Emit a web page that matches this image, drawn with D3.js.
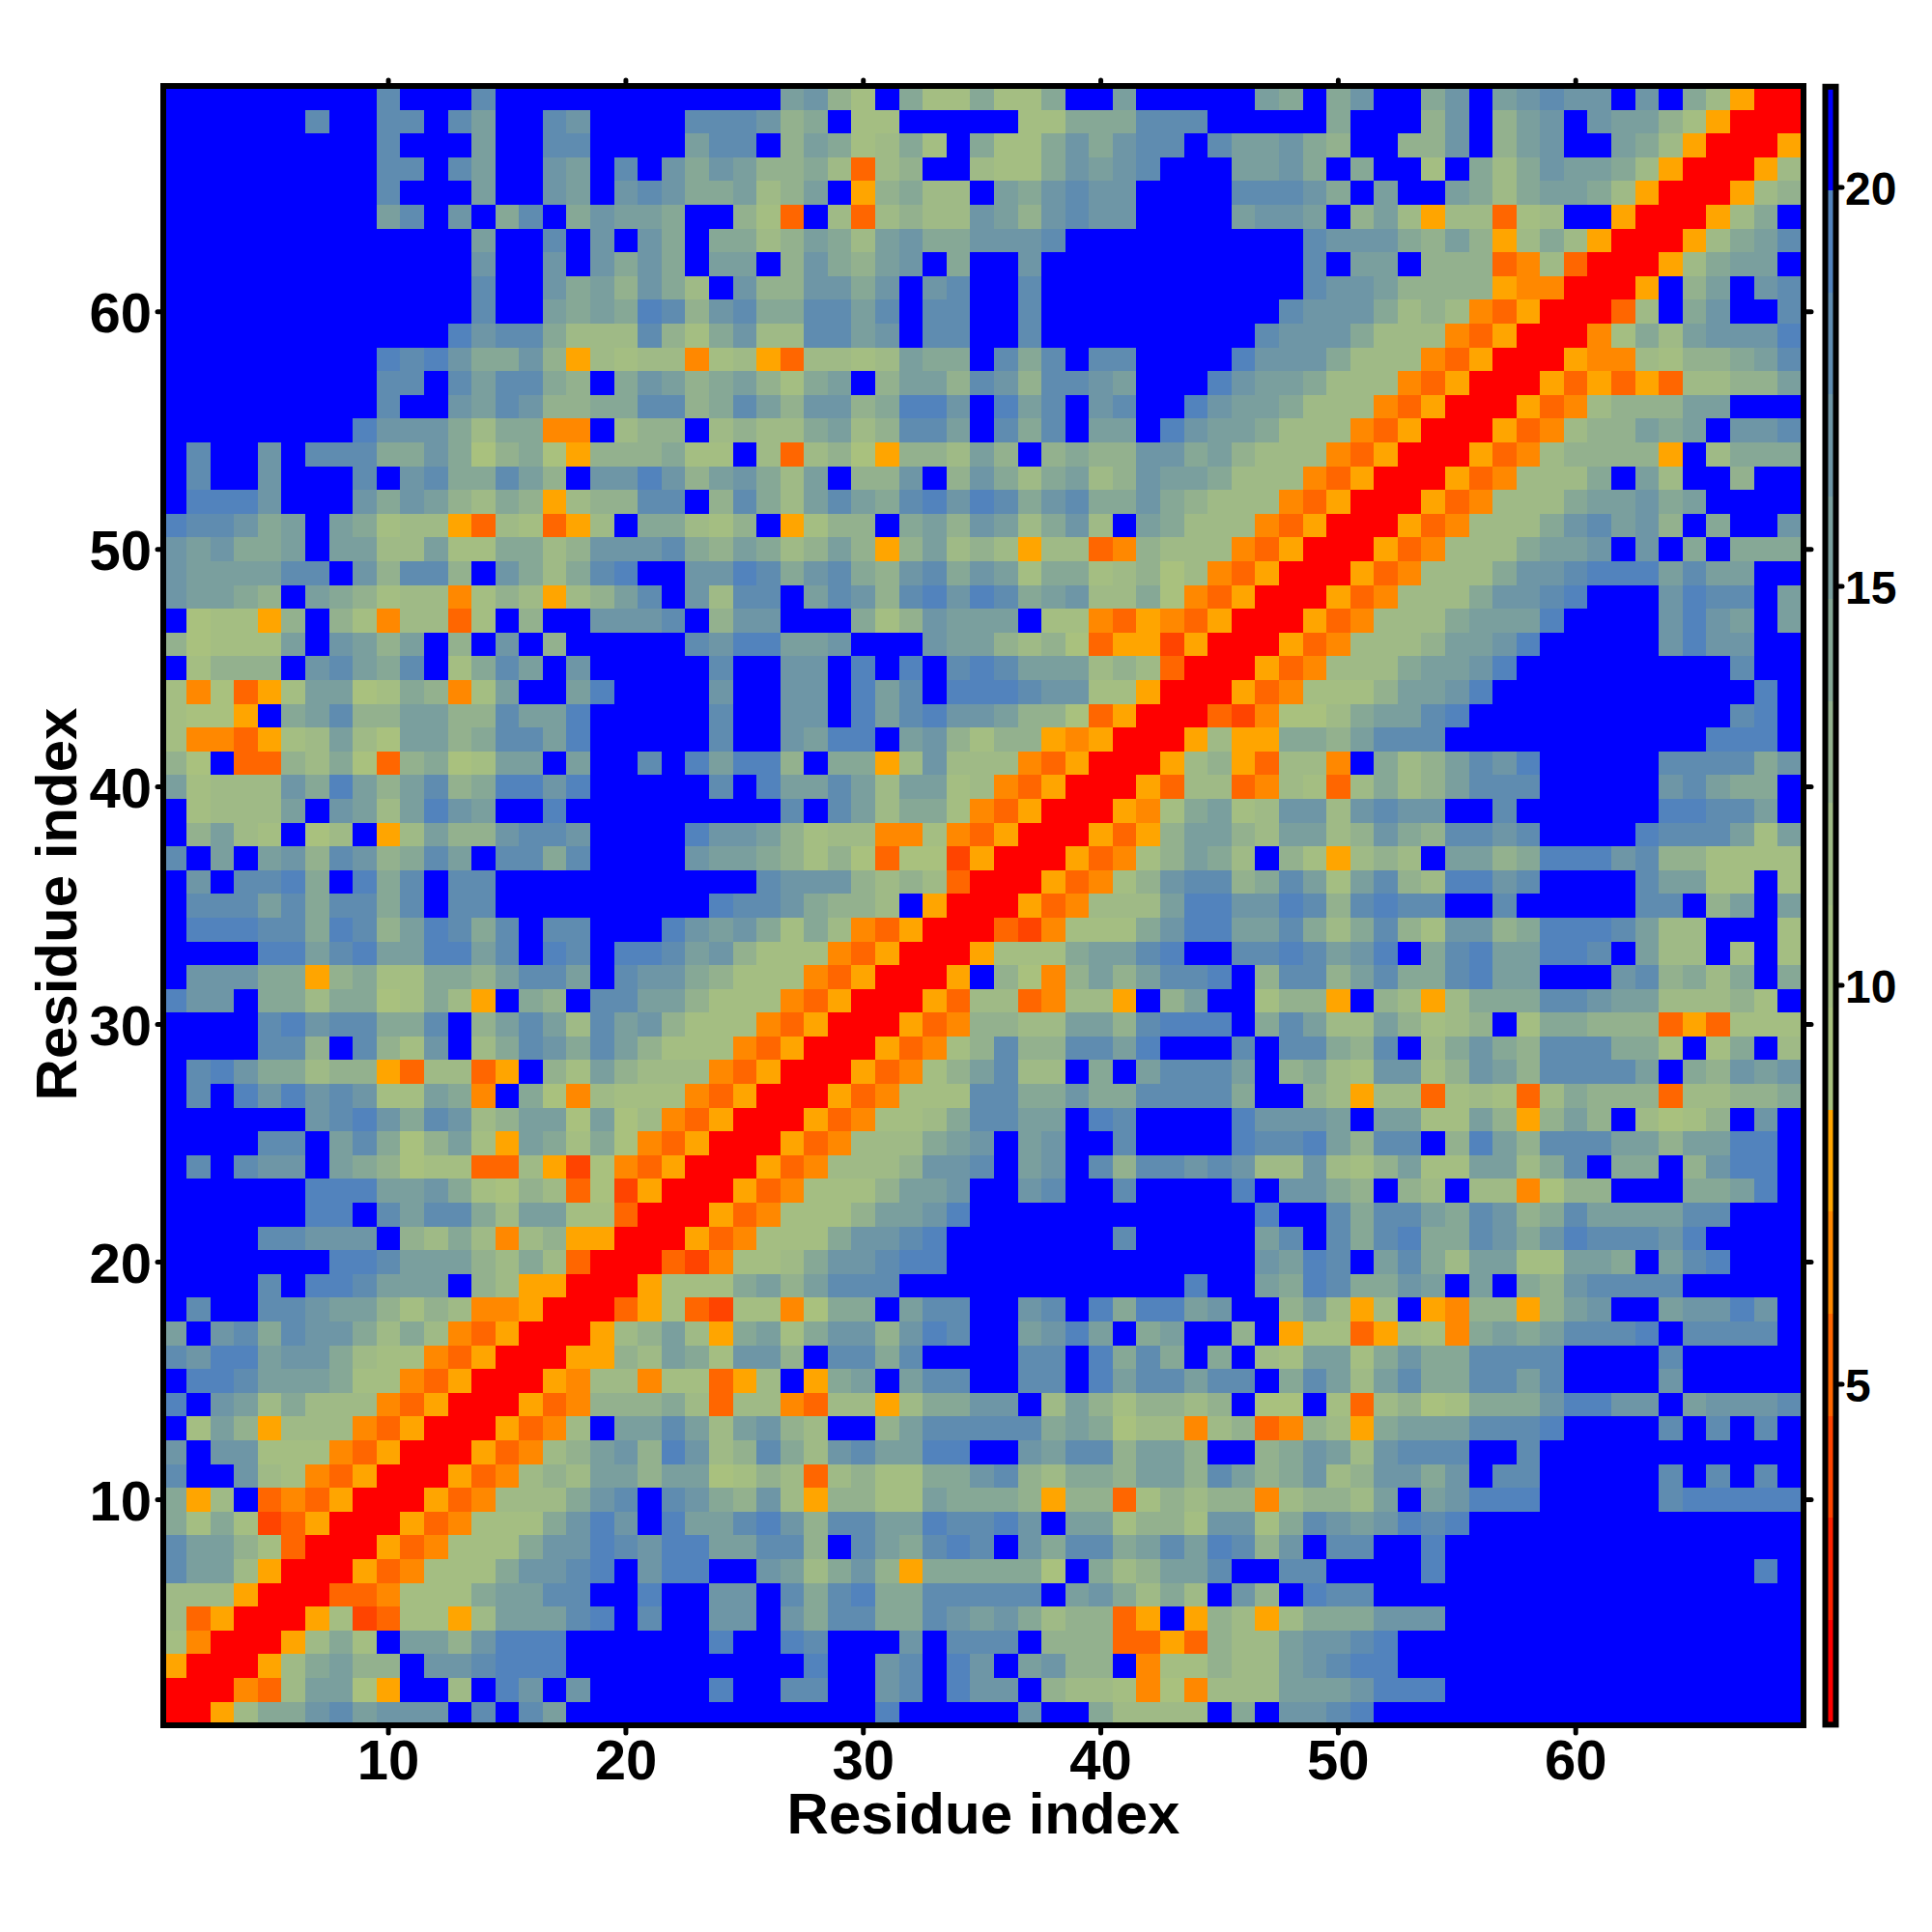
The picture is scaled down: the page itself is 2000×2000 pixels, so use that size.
<!DOCTYPE html>
<html><head><meta charset="utf-8"><title>Residue contact map</title>
<script src="https://cdn.jsdelivr.net/npm/d3@7"></script>
<style>html,body{margin:0;padding:0;background:#fff}svg{display:block}text{font-family:"Liberation Sans",Arial,sans-serif;font-weight:bold;fill:#000}</style>
</head><body><svg id="c" width="2000" height="2000"></svg>
<script>
// Distance-band codes per cell; first entry = residue 69 (top row), left to right = residue 1..69.
// R,Q,D,O,Y = red to orange bands; 1..9 = sage green to steel blue bands; B = blue band.
const rows = [
"BBBBBBBBB8 BBB8BBBBBB BBBBBB6742 B5225225BB 6BBBBB65B5 7BB57B6787 7B7B53YRR",
"BBBBBB8BB8 8B86BB87BB BB888745B2 2BBBBB2255 5888BBBBB5 BBB47B467B 76642YRRR",
"BBBBBBBBB8 BBB6BB88BB BB688B4652 352B522575 788B866754 BB447B467B B653YRRRY",
"BBBBBBBBB8 8B86BB76B8 B75764453D 34BB322576 78BBB6675B 5BB2B53576 653YRRRY3",
"BBBBBBBBB8 BBB6BB76B7 87556346BY 4533B65787 7BBBB88875 B6BB653566 53YRRRY34",
"BBBBBBBBB6 8B7B58B576 65BB42DB3D 3433764787 7BBBB6776B 463Y33D23B BYRRRY35B",
"BBBBBBBBBB BBB6BB8B7B 75B5534653 67557778BB BBBBBBBB87 775464Y353 YRRRY3568",
"BBBBBBBBBB BBB7BB7B75 75B66B4754 67B5BB7BBB BBBBBBBB8B 66B444DO3D RRRY3566B",
"BBBBBBBBBB BBB8BB7564 753B744775 7B78BB8BBB BBBBBBBB87 764444YOOR RRYB46B78",
"BBBBBBBBBB BBB8BB6565 9847855886 8B88BB8BBB BBBBBBB877 75343ODYRR RD3B57BB8",
"BBBBBBBBBB BB97885333 8425733886 7B88BB8BBB BBBBBB8777 5333ODYRRR O25367779",
"BBBBBBBBB9 8975574Y32 33O23YD332 3655B858B8 8BBBB97775 333ODYRRRY OO3244568",
"BBBBBBBBB8 8B868854B5 764564256B 4664874887 6BBB976653 33ODYRRRYD YDYD33446",
"BBBBBBBBB8 BB76874455 8845864774 5997B968B7 8BB9766533 3ODYRRRYDO 344466BBB",
"BBBBBBBB97 775355OOB3 44B3433563 4886B858B6 6B97665333 ODYRRRYDO3 44656B778",
"B8BB7B8885 5751451Y44 4522B3D341 Y44364B454 477564333O DYRRRYDO34 444YB3555",
"B8BB7BBB8B 7855864B77 97467536B4 47B4753563 47665333OD YRRRYDO333 5B63BB4BB",
"B9997BBB75 764354Y344 88B4853686 5897985785 5754333ODY RRRYDO3335 66756BBBB",
"988756B652 33YD32DY3B 55324BY244 B564763573 B65333ODYR RRYDO33357 8674B5BB7",
"767556B663 3622553477 7854653464 Y46343Y33D O4333ODYRR RYDO333566 7B7B5B555",
"7666688B74 884B753589 BB77985785 4785762552 3413ODYRRR YDO3335778 9996866BB",
"76654B6542 33O243Y346 8B7388B687 4897985673 351ODYRRRY DO33357789 BBB7988B6",
"B122Y4B42O 33D2B4BB77 78B477BBB5 247666B22O DYODYRRRYD O33356669B BBB7976B6",
"412226B764 6B4B7B4BBB BB8799667B BB7664341D YYQYRRRYDO 33346679BB BBB7977BB",
"B2444B7865 8B2586B7BB BBB8BB77B9 B9B8986663 43DRRRYDO3 3356679BBB BBBBBB8BB",
"2O1DY26612 54O26BB69B BBB7BB77B9 68B9998772 2YRRRYDO22 246679BBBB BBBBBBB9B",
"211YB56844 66448669BB BBB8BB77B9 689776441D YRRRDQO113 56689BBBBB BBBBBB89B",
"2OODY23631 66458869BB BBB8BB7699 B674244YOY RRRY3YY554 6888BBBBBB BBBBB999B",
"41BDD4351D 451266B6BB 8B96994B55 Y37333ODYR RRY34YD33O B5346879BB BBB888857",
"6233375964 68459979BB BBB8B96686 36623ODYRR RYD33DO32D 35346888BB BBB78655B",
"B23336B763 6976BB9BBB BBBBBB8B86 3552ODYRRR YO25623773 7877BB8BBB BBB99886B",
"B4632B13BY 36447887BB BB97764233 OO2ODYRRRY DY46643663 47548878BB BB9888626",
"8B6B674874 586B8858BB BB76654241 D11QYRRRYD O24653B42Y 343B664599 978442222",
"B7B8895B95 8B88BBBBBB BBBBB87774 343DRRRYDO 2478845862 68439978BB BB86622B2",
"B888685885 8B88BBBBBB BBB9887544 3BYRRRYDO3 3369977984 8988BB8BBB BB88B46B6",
"B999885984 69858B88BB B97675253O DYRRRDQO22 2579966853 5842774599 98633BBB2",
"BBBB996896 69968B98B9 98674222OD YRRRY22256 689BB88986 79B5896699 8B633B2B2",
"B77755Y452 25546886B8 7754222ODY RRRYB41O46 46889B4884 68558966BB B784535B5",
"977B553551 253YB54B88 664222ODYR RRYD33DO33 YB46BB244Y B43Y355588 76633342B",
"BBBB897885 58B4686386 74222ODYRR RYDO443366 48999B5863 364234B255 444DYD222",
"BBBB884B84 27B3587586 4222ODYRRR YDO2484488 69BBB8B885 48B3575488 8552B25B3",
"B89755344Y D33DYB4264 333ODYRRRY DO246833B5 B68886B453 2772476488 886B54767",
"B8B9797872 265OB51O32 22ODYRRRYD O222885575 588885BB43 Y33D232D35 444D33445",
"BBBBBB7897 5873466161 3ODYRRRYDO 22358866B9 8BBBB97776 B662264Y46 4B3124B7B",
"BBBB88B685 1462Y65251 ODYRRRYDO3 33567B67BB 8BBBB98896 488B496488 86646699B",
"B8B877B654 122DD3YQ1O DYRRRYDO33 34778B67B8 4887873373 2462266358 B55B4799B",
"BBBBBB9996 6752143D1Q YRRRYDO222 4667BB78BB 8BBBB9B775 4B43B33O14 4BBB5569B",
"BBBBBB99B8 688536622D RRRYDO2224 6679BBBBBB BBBBBB9BB8 5886587458 666688BBB",
"BBBB88777B 4353O34YYR RRYDO22257 789BBBBBBB 8BBBBB68B8 5895587579 88879BBBB",
"BBBBBBB998 6664353DRR RDQO223577 899BBBBBBB BBBBBB7698 B685366226 65B689BBB",
"BBBB8B9986 66B43YYRRR Y222564688 8BBBBBBBBB BBB9BB6598 5576B6B547 8888BBBBB",
"B8BB887664 243OOYRRRD Y2DQ22O155 B688BB78B9 59967BB463 Y3BYO44Y46 7BB67797B",
"6B78587753 53ODYRRRY3 463Y562577 4798BB6796 B56BB4BY22 DY32O56568 889B8888B",
"8799677532 2ODYRRRYY4 3652774B88 58BBBB88B9 585B5B3266 257558888B BBB8BBBBB",
"B998666522 ODYRRRYO33 O22DY3BY56 B688BB88B9 688688B586 368558868B BBB7BBBBB",
"9B7635333O DYRRRYDO44 453D33OD33 Y35577B364 24434B11B2 D341255579 977B67778",
"B264Y333OD YRRRYDO3B6 68636743BB 4688888565 133O34DO43 Y56668889B BBB8B8B8B",
"7B77222ODY RRRYDO3467 4973485378 6699BB7688 4664BB4576 37888BB8BB BBBBBBBBB",
"8BB732ODYR RRYDO34366 4661243D34 2255784355 4664864573 47757B88BB BBB8B8B8B",
"5Y3BDODYRR RYDO333578 B875473Y44 2265554Y44 D24344O344 36B67999BB BBB899999",
"5252QDYRRR YDO2225797 B966897488 6698897B66 2442772587 67989BBBBB BBBBBBBBB",
"86642DRRRY DO22257798 79966884B8 65898B7588 56869847B8 8BB9BBBBBB BBBBBBBBB",
"8663YRRRYD O22257789B 799BB76357 4Y555551B5 34668BB88B BBB9BBBBBB BBBBBBB9B",
"333YRRRDDO 22256688BB 9BB77B8589 5588888B67 5353B74B98 8BBBBBBBBB BBBBBBBBB",
"3DYRRRY2QD 22Y366689B 8BB77B7588 5587675344 DYBY43Y355 5777BBBBBB BBBBBBBBB",
"2ORRRY352B 6647999BBB BBB9BB98BB B7B888B444 DDYD433677 89BBBBBBBB BBBBBBBBB",
"YRRRY35644 B778999BBB BBBBBBB9BB 78B97B6744 BO22433678 99BBBBBBBB BBBBBBBBB",
"RRROD3661Y BB3B97B7BB BBB9BB88BB 78B977B433 2O1O333666 7999BBBBBB BBBBBBBBB",
"RRY3557867 77B8B86BBB BBBBBBBBBB 9BBBBB7BB5 3333B5B778 9BBBBBBBBB BBBBBBBBB"
];
const bandCodes = ["R","P","Q","D","O","Y","1","2","3","4","5","6","7","8","9","B"];
const bandColors = ["#ff0000","#ff2200","#ff4400","#ff6600","#ff8800","#ffa500",
  "#a9c17e","#a4be82","#9fba86","#93b18e","#86a896","#7a9f9e","#6e96a6","#5f8cb0","#5283bd","#0000ff"];
const valueMin = 0.77, bandStep = 1.28;
const xTicks = [10,20,30,40,50,60], yTicks = [10,20,30,40,50,60], barTicks = [5,10,15,20];
const xLabel = "Residue index", yLabel = "Residue index";

const svg = d3.select("#c");
const L=172,R=1864,T=90,B=1783;
const x = d3.scaleLinear().domain([0.64,69.47]).range([L,R]);
const y = d3.scaleLinear().domain([0.63,69.46]).range([B,T]);
const edges = bandColors.map((c,i)=>valueMin+bandStep*i);
const color = d3.scaleThreshold().domain(edges.slice(1)).range(bandColors);

const cells=[];
rows.forEach((s,ri)=>{
  const clean=s.replace(/ /g,"");
  if(clean.length!==69) console.error("row",69-ri,clean.length);
  [...clean].forEach((ch,ci)=>cells.push({i:ci+1,j:69-ri,v:valueMin+bandStep*(bandCodes.indexOf(ch)+0.5)}));
});
svg.append("clipPath").attr("id","plot").append("rect").attr("x",L).attr("y",T).attr("width",R-L).attr("height",B-T);
svg.append("g").attr("clip-path","url(#plot)").attr("shape-rendering","crispEdges")
  .selectAll("rect").data(cells).join("rect")
  .attr("x",d=>x(d.i-0.5)).attr("y",d=>y(d.j+0.5))
  .attr("width",d=>x(d.i+0.5)-x(d.i-0.5)+0.5).attr("height",d=>y(d.j-0.5)-y(d.j+0.5)+0.5)
  .attr("fill",d=>color(d.v));
svg.append("rect").attr("x",L-3).attr("y",T-1).attr("width",R-L+6).attr("height",B-T+4)
  .attr("fill","none").attr("stroke","#000").attr("stroke-width",6);

function tick(x1,y1,x2,y2){svg.append("line").attr("x1",x1).attr("y1",y1).attr("x2",x2).attr("y2",y2)
  .attr("stroke","#000").attr("stroke-width",5).attr("stroke-linecap","round");}
xTicks.forEach(t=>{tick(x(t),B+6,x(t),B+11);tick(x(t),T-5,x(t),T-7);
  svg.append("text").attr("x",x(t)).attr("y",1842).attr("text-anchor","middle").attr("font-size",58).text(t);});
yTicks.forEach(t=>{tick(L-6,y(t),L-9,y(t));tick(R+6,y(t),R+11,y(t));
  svg.append("text").attr("x",157).attr("y",y(t)+21).attr("text-anchor","end").attr("font-size",58).text(t);});
svg.append("text").attr("x",1018).attr("y",1898).attr("text-anchor","middle").attr("font-size",60).text(xLabel);
svg.append("text").attr("transform","translate(79,936) rotate(-90)").attr("text-anchor","middle").attr("font-size",60).text(yLabel);

// colour bar
const barL=1892,barR=1898;
const barY=d3.scaleLinear().domain([5,20]).range([1433,194]);
const bands=bandColors.map((c,i)=>({lo:edges[i],hi:edges[i]+bandStep,c}));
svg.append("g").attr("shape-rendering","crispEdges").selectAll("rect").data(bands).join("rect")
  .attr("x",barL).attr("width",barR-barL)
  .attr("y",d=>barY(d.hi)).attr("height",d=>barY(d.lo)-barY(d.hi)+0.5).attr("fill",d=>d.c);
svg.append("rect").attr("x",barL-2.5).attr("y",barY(valueMin+bandStep*16)-1).attr("width",barR-barL+5)
  .attr("height",barY(valueMin)-barY(valueMin+bandStep*16)+4).attr("fill","none").attr("stroke","#000").attr("stroke-width",6);
barTicks.forEach(t=>{tick(barR+5,barY(t),barR+9,barY(t));
  svg.append("text").attr("x",1910).attr("y",barY(t)+18).attr("font-size",48).text(t);});
</script></body></html>
